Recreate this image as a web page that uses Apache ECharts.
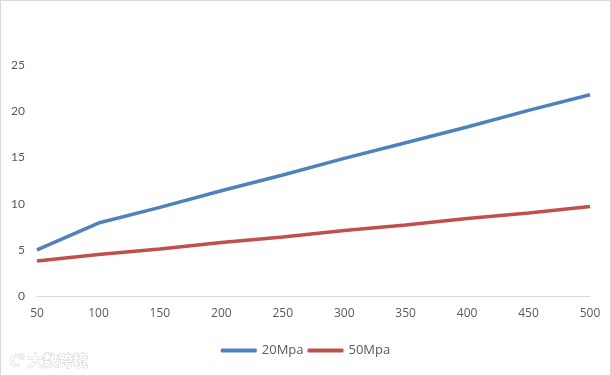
<!DOCTYPE html>
<html lang="zh">
<head>
    <meta charset="UTF-8"/>
    <title>20Mpa / 50Mpa</title>
    <script src="https://cdn.jsdelivr.net/npm/echarts@6/dist/echarts.min.js"></script>
    <style>
        html, body { margin: 0; padding: 0; background: #fff; }
        #chart { width: 611px; height: 376px; box-sizing: border-box; border: 1px solid #d9d9d9; }
    </style>
</head>
<body>
<div id="chart"></div>
<script type="text/javascript">
    // 横轴分类
    var categories = ['50', '100', '150', '200', '250', '300', '350', '400', '450', '500'];
    // 两条曲线的数据
    var mpa20 = [5.0, 7.9, 9.6, 11.4, 13.1, 14.9, 16.6, 18.3, 20.1, 21.8];
    var mpa50 = [3.8, 4.5, 5.1, 5.8, 6.4, 7.1, 7.7, 8.4, 9.0, 9.7];
    var seriesNames = ['20Mpa', '50Mpa'];

    var myChart = echarts.init(document.getElementById('chart'));
    var wideFont = '"Open Sans", "Noto Sans", sans-serif';
    var narrowFont = 'Lato, "Liberation Sans", sans-serif';

    var option = {
        animation: false,
        color: ['#4f81bd', '#c0504d'],
        grid: {
            left: 36,
            right: 20,
            top: 18,
            bottom: 79
        },
        legend: {
            data: seriesNames,
            bottom: 13,
            left: 'center',
            icon: 'roundRect',
            itemWidth: 36,
            itemHeight: 4,
            itemGap: 4,
            textStyle: { color: '#595959', fontSize: 13, fontFamily: wideFont }
        },
        xAxis: {
            type: 'category',
            boundaryGap: false,
            data: categories,
            axisLine: { lineStyle: { color: '#d9d9d9', width: 1 } },
            axisTick: { show: false },
            axisLabel: { color: '#595959', fontSize: 12, margin: 12, fontFamily: wideFont }
        },
        yAxis: {
            type: 'value',
            min: 0,
            max: 30,
            interval: 5,
            axisLine: { show: false },
            axisTick: { show: false },
            splitLine: { show: false },
            axisLabel: {
                color: '#595959',
                fontSize: 12,
                margin: 12,
                fontFamily: narrowFont,
                formatter: function (v) { return v === 30 ? '' : v; }
            }
        },
        series: [
            {
                name: seriesNames[0],
                type: 'line',
                data: mpa20,
                symbol: 'none',
                lineStyle: { width: 3.5 }
            },
            {
                name: seriesNames[1],
                type: 'line',
                data: mpa50,
                symbol: 'none',
                lineStyle: { width: 3.5 }
            }
        ],
        graphic: [
            {
                type: 'text',
                left: 8,
                bottom: 7,
                style: {
                    text: 'ℂ° 大数跨境',
                    fill: '#ffffff',
                    stroke: '#d0d0d0',
                    lineWidth: 1,
                    font: 'bold 15px "Noto Sans CJK SC", sans-serif'
                }
            }
        ]
    };
    myChart.setOption(option);
</script>
</body>
</html>
